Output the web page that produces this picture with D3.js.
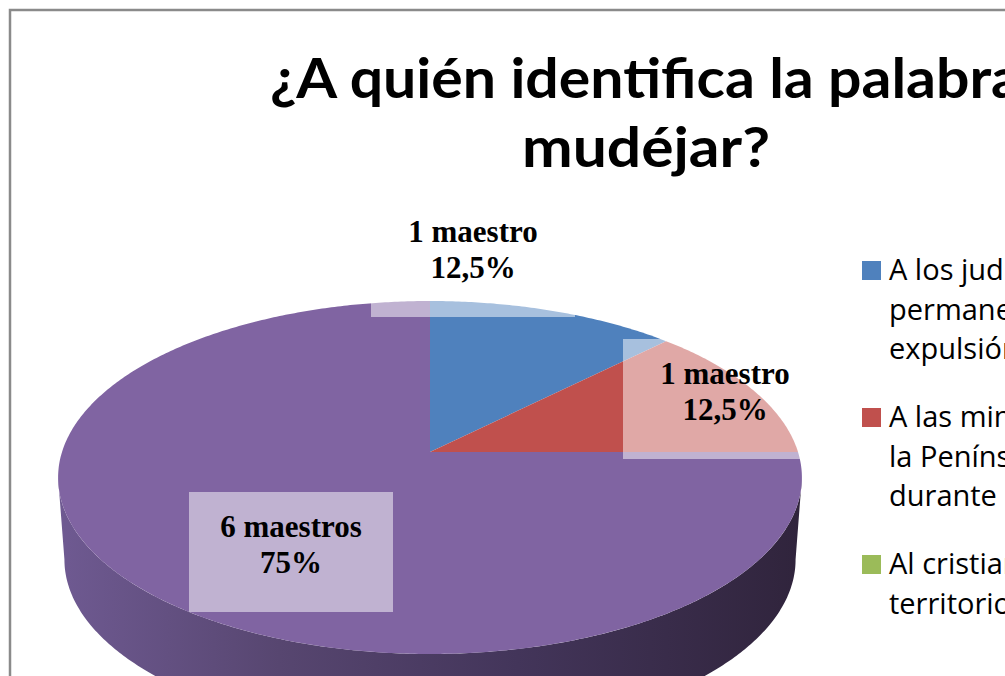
<!DOCTYPE html>
<html>
<head>
<meta charset="utf-8">
<script src="https://cdn.jsdelivr.net/npm/d3@7"></script>
<style>
  body { margin: 0; background: #fff; overflow: hidden; }
  svg { display: block; }
</style>
</head>
<body>
<script>
'use strict';

// chart data
const titleLines = ["¿A quién identifica la palabra", "mudéjar?"];
const categories = [
  ["A los judíos que", "permanecieron tras su", "expulsión"],
  ["A las minorías musulmanas de", "la Península Ibérica", "durante la Edad Media"],
  ["Al cristiano que vivía en", "territorio musulmán"],
  ["Al musulmán que vivía en", "territorio cristiano"]
];
const values = [1, 1, 0, 6];
const colors = ["#4F81BD", "#C0504D", "#9BBB59", "#8064A2"];

(function() {
  const W = 1005, H = 676;
  const svg = d3.select("body").append("svg")
    .attr("width", W).attr("height", H);

  const defs = svg.append("defs");
  const grad = defs.append("linearGradient")
    .attr("id", "sideGrad")
    .attr("gradientUnits", "userSpaceOnUse")
    .attr("x1", 56).attr("x2", 800).attr("y1", 0).attr("y2", 0);
  [["0%", "#6f5a92"], ["30%", "#574670"], ["62%", "#43355a"], ["100%", "#30243c"]]
    .forEach(s => grad.append("stop").attr("offset", s[0]).attr("stop-color", s[1]));

  // chart frame (right and bottom edges fall outside the picture)
  svg.append("rect")
    .attr("x", 10).attr("y", 10)
    .attr("width", 1270).attr("height", 800)
    .attr("fill", "none")
    .attr("stroke", "#8a8a8a")
    .attr("stroke-width", 2.5);

  // title
  const title = svg.append("g")
    .style("font-family", "Lato, 'Open Sans', sans-serif")
    .style("font-weight", "bold")
    .style("font-size", "56px")
    .attr("fill", "#000");
  title.append("text")
    .attr("x", 270).attr("y", 98)
    .attr("textLength", 751).attr("lengthAdjust", "spacingAndGlyphs")
    .text(titleLines[0]);
  title.append("text")
    .attr("x", 522).attr("y", 167)
    .attr("textLength", 248).attr("lengthAdjust", "spacingAndGlyphs")
    .text(titleLines[1]);

  // perspective projection of the pie disc
  const cx = 430, cy = 452, A = 368, B = 172.8, k = 0.1445;
  const depth = 82, bottomScale = 0.983;
  function proj(theta, down) {
    const u = Math.sin(theta), v = Math.cos(theta);
    const w = 1 + k * v;
    const sx = down ? bottomScale : 1;
    return [cx + A * sx * u / w, cy + (down ? depth : 0) - B * v / w];
  }
  function arcPoints(a0, a1, down) {
    const n = Math.max(2, Math.ceil(Math.abs(a1 - a0) / 0.01));
    return d3.range(n + 1).map(i => proj(a0 + (a1 - a0) * i / n, down));
  }
  const line = d3.line();

  const pie = d3.pie().sort(null).value(d => d);
  const arcs = pie(values);

  // front side of the cylinder
  const tR = Math.acos(-k), tL = 2 * Math.PI - tR;
  const sidePts = arcPoints(tR, tL, false).concat(arcPoints(tL, tR, true));
  svg.append("path")
    .attr("d", line(sidePts) + "Z")
    .attr("fill", "url(#sideGrad)");

  // top face slices
  svg.append("g").selectAll("path")
    .data(arcs.filter(a => a.endAngle > a.startAngle))
    .join("path")
    .attr("d", a => line([[cx, cy]].concat(arcPoints(a.startAngle, a.endAngle, false))) + "Z")
    .attr("fill", a => colors[a.index]);

  // data labels
  const total = d3.sum(values);
  const esFormat = d3.formatLocale({ decimal: ",", thousands: ".", grouping: [3], currency: ["", "€"] })
    .format(".1~%");
  const labelCenters = [[473, 257], [725, 399], null, [291, 552]];
  const boxW = 204, boxH = 120;
  const labelG = svg.append("g");
  arcs.forEach(a => {
    if (a.value === 0 || !labelCenters[a.index]) return;
    const [lx, ly] = labelCenters[a.index];
    labelG.append("rect")
      .attr("x", lx - boxW / 2).attr("y", ly - boxH / 2)
      .attr("width", boxW).attr("height", boxH)
      .attr("fill", "#fff").attr("fill-opacity", 0.5);
    const t = labelG.append("text")
      .attr("text-anchor", "middle")
      .style("font-family", "'Liberation Serif', 'Times New Roman', serif")
      .style("font-weight", "bold")
      .style("font-size", "31px")
      .attr("fill", "#000");
    t.append("tspan").attr("x", lx).attr("y", ly - 15)
      .text(a.value + (a.value === 1 ? " maestro" : " maestros"));
    t.append("tspan").attr("x", lx).attr("y", ly + 21)
      .text(esFormat(a.value / total));
  });

  // legend
  const legX = 862, legY = 280, slot = 147, lineH = 39.5, sq = 19;
  const leg = svg.append("g")
    .style("font-family", "'Open Sans', Lato, sans-serif")
    .style("font-size", "29px")
    .attr("fill", "#000");
  categories.forEach((lines, i) => {
    const y0 = legY + i * slot;
    leg.append("rect")
      .attr("x", legX).attr("y", y0 - sq)
      .attr("width", sq).attr("height", sq)
      .attr("fill", colors[i]);
    const t = leg.append("text");
    lines.forEach((s, j) => {
      t.append("tspan").attr("x", legX + 27).attr("y", y0 + j * lineH).text(s);
    });
  });
})();
</script>
</body>
</html>
